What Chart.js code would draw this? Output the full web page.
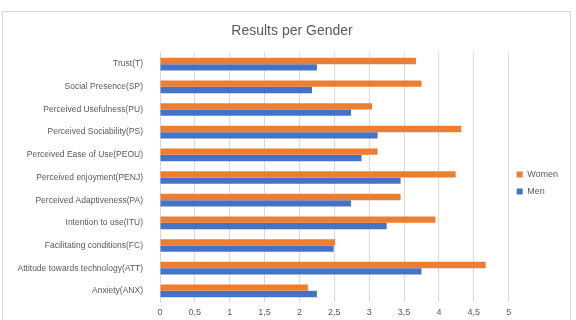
<!DOCTYPE html>
<html>
<head>
<meta charset="utf-8">
<script src="https://cdn.jsdelivr.net/npm/chart.js@4/dist/chart.umd.min.js"></script>
<style>
  html, body { margin: 0; padding: 0; background: #fff; overflow: hidden; }
  #wrap { position: relative; width: 576px; height: 320px; overflow: hidden; }
  #frame { position: absolute; left: 2px; top: 11px; width: 569px; height: 320px; border: 1px solid #d9d9d9; box-sizing: border-box; }
  canvas { position: absolute; left: 0; top: 0; }
</style>
</head>
<body>
<div id="wrap">
  <div id="frame"></div>
  <canvas id="chartGenre" width="576" height="323"></canvas>
</div>
<script>
// categories (top to bottom)
const categories = [
    "Trust(T)",
    "Social Presence(SP)",
    "Perceived Usefulness(PU)",
    "Perceived Sociability(PS)",
    "Perceived Ease of Use(PEOU)",
    "Perceived enjoyment(PENJ)",
    "Perceived Adaptiveness(PA)",
    "Intention to use(ITU)",
    "Facilitating conditions(FC)",
    "Attitude towards technology(ATT)",
    "Anxiety(ANX)"
];
const women = [3.67, 3.75, 3.04, 4.32, 3.12, 4.24, 3.45, 3.95, 2.51, 4.67, 2.12];
const men = [2.25, 2.18, 2.74, 3.12, 2.89, 3.45, 2.74, 3.25, 2.49, 3.75, 2.25];
const xMax = 5;
const xStep = 0.5;

const POLICE = "'Liberation Sans', Arial, sans-serif";
const GRIS = "#595959";

// formate les ticks avec une virgule comme séparateur décimal
function virgule(v) {
    return String(v).replace(".", ",");
}

const donnees = {
    labels: categories,
    datasets: [
        { label: "Women", data: women, backgroundColor: "#ED7D31" },
        { label: "Men", data: men, backgroundColor: "#4472C4" }
    ]
};

const options = {
    indexAxis: "y",
    responsive: false,
    animation: false,
    layout: { padding: { left: 16, right: 8, top: 23, bottom: 0 } },
    datasets: { bar: { categoryPercentage: 0.56, barPercentage: 1.0 } },
    scales: {
        x: {
            min: 0,
            max: xMax,
            ticks: {
                stepSize: xStep,
                color: GRIS,
                font: { family: POLICE, size: 9 },
                padding: 5,
                callback: function (v) { return virgule(v); }
            },
            grid: { color: "#d9d9d9", drawTicks: false },
            border: { display: false }
        },
        y: {
            // largeur fixe sinon chart.js limite l'axe et coupe les libellés
            afterFit: function (scale) { scale.width = 144; },
            ticks: {
                color: GRIS,
                font: { family: POLICE, size: 8.5 },
                padding: 9
            },
            grid: { display: false },
            border: { color: "#d9d9d9" }
        }
    },
    plugins: {
        title: {
            display: true,
            text: "Results per Gender",
            color: GRIS,
            font: { family: POLICE, size: 14, weight: "normal" },
            padding: { top: 0, bottom: 13 }
        },
        legend: {
            position: "right",
            title: {
                display: true,
                text: " ",
                font: { family: POLICE, size: 9 },
                padding: { top: 0, bottom: 9 }
            },
            labels: {
                color: GRIS,
                font: { family: POLICE, size: 9 },
                boxWidth: 6,
                boxHeight: 6,
                padding: 8
            }
        },
        tooltip: { enabled: false }
    }
};

let chart = document.getElementById("chartGenre");
let ChartGenre = new Chart(chart, { type: "bar", data: donnees, options: options });
</script>
</body>
</html>
